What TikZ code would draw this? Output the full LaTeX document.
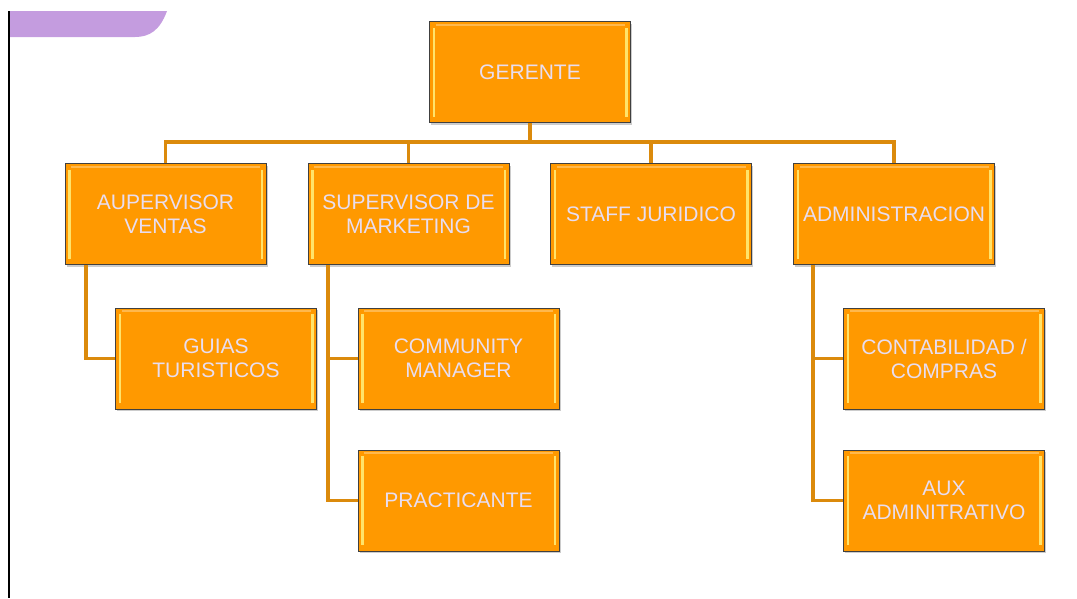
\documentclass[tikz,border=0pt]{standalone}
\usepackage{fontspec}
\setmainfont{Liberation Sans}
\usetikzlibrary{shadows}
\definecolor{boxorange}{HTML}{FF9900}
\definecolor{lineorange}{HTML}{DB8A0C}
\definecolor{txtlav}{HTML}{E8DDF0}
\definecolor{hilite}{HTML}{FFE36A}
\definecolor{purp}{HTML}{C49CDF}
\tikzset{
  x=1pt, y=-1pt,
  orgbox/.style={draw=black!75, line width=0.8pt, fill=boxorange,
    minimum width=201pt, minimum height=101pt, inner sep=0pt,
    align=center, text=txtlav, font=\fontsize{21}{24}\selectfont,
    drop shadow={shadow xshift=1.5pt, shadow yshift=-2pt, opacity=0.4},
    path picture={
      \fill[hilite] ([xshift=3pt,yshift=-6pt]path picture bounding box.north west) rectangle ([xshift=5.5pt,yshift=6pt]path picture bounding box.south west);
      \fill[hilite] ([xshift=-5.5pt,yshift=-6pt]path picture bounding box.north east) rectangle ([xshift=-3pt,yshift=6pt]path picture bounding box.south east);
      \fill[boxorange!70!white] ([xshift=6pt,yshift=-2pt]path picture bounding box.north west) rectangle ([xshift=-6pt,yshift=-4pt]path picture bounding box.north east);
    }},
  conn/.style={draw=lineorange, line width=3.2pt}
}
\begin{document}
\begin{tikzpicture}
\useasboundingbox (0,0) rectangle (1077,598);
% purple header band
\fill[purp] (10,11) -- (167,11) .. controls (160,30) and (150,37) .. (135,37) -- (10,37) -- cycle;
% left vertical line
\draw[black, line width=1.8pt] (9,11) -- (9,598);

\node[orgbox] (ger) at (530,72) {GERENTE};
\node[orgbox] (sv) at (165.5,214) {AUPERVISOR\\VENTAS};
\node[orgbox] (sm) at (408.5,214) {SUPERVISOR DE\\MARKETING};
\node[orgbox] (sj) at (651,214) {STAFF JURIDICO};
\node[orgbox] (ad) at (894,214) {ADMINISTRACION};
\node[orgbox] (gt) at (216,358.5) {GUIAS\\TURISTICOS};
\node[orgbox] (cm) at (458.5,358.5) {COMMUNITY\\MANAGER};
\node[orgbox] (pr) at (458.5,500.5) {PRACTICANTE};
\node[orgbox] (co) at (944,358.5) {CONTABILIDAD /\\COMPRAS};
\node[orgbox] (ax) at (944,500.5) {AUX\\ADMINITRATIVO};

\coordinate (bus) at (530,142);
\draw[conn] (ger.south) -- (bus);
\draw[conn] (sv.north) -- (sv.north |- bus) -- (ad.north |- bus) -- (ad.north);
\draw[conn] (sm.north) -- (sm.north |- bus);
\draw[conn] (sj.north) -- (sj.north |- bus);

\coordinate (svd) at (86,265);
\draw[conn] (svd) |- (gt.west);
\coordinate (smd) at (328,265);
\draw[conn] (smd) |- (cm.west);
\draw[conn] (smd) |- (pr.west);
\coordinate (add) at (813,265);
\draw[conn] (add) |- (co.west);
\draw[conn] (add) |- (ax.west);
\end{tikzpicture}
\end{document}
